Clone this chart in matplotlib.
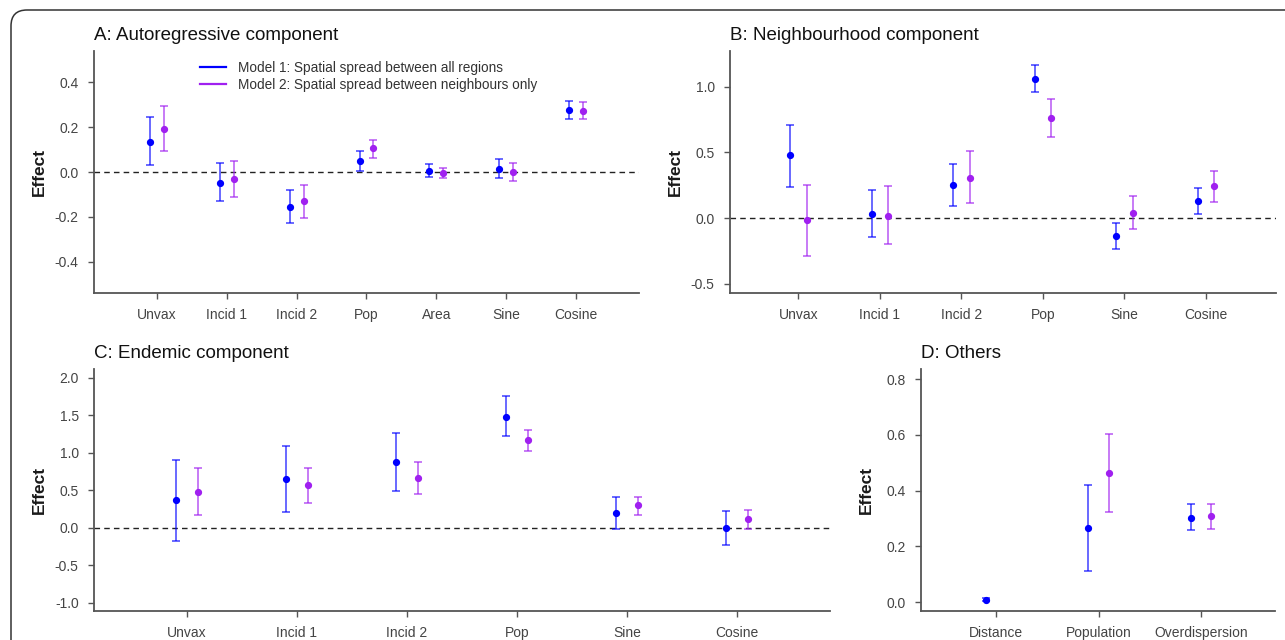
import numpy as np
import matplotlib.pyplot as plt
from matplotlib.patches import FancyBboxPatch
from matplotlib.lines import Line2D
from matplotlib.transforms import IdentityTransform

plt.rcParams['font.family'] = ['Liberation Sans', 'DejaVu Sans']
plt.rcParams['axes.unicode_minus'] = False

# A: autoregressive component
ar_labels = ["Unvax", "Incid 1", "Incid 2", "Pop", "Area", "Sine", "Cosine"]
ar_m1 = [0.134, -0.047, -0.156, 0.048, 0.006, 0.015, 0.278]
ar_m1_lo = [0.030, -0.128, -0.229, 0.005, -0.023, -0.029, 0.236]
ar_m1_hi = [0.245, 0.039, -0.081, 0.092, 0.035, 0.059, 0.317]
ar_m2 = [0.192, -0.033, -0.128, 0.105, -0.005, 0.002, 0.274]
ar_m2_lo = [0.092, -0.110, -0.205, 0.063, -0.029, -0.041, 0.236]
ar_m2_hi = [0.296, 0.048, -0.056, 0.144, 0.020, 0.042, 0.311]

# B: neighbourhood component
ne_labels = ["Unvax", "Incid 1", "Incid 2", "Pop", "Sine", "Cosine"]
ne_m1 = [0.477, 0.033, 0.250, 1.058, -0.137, 0.130]
ne_m1_lo = [0.236, -0.145, 0.090, 0.962, -0.239, 0.033]
ne_m1_hi = [0.710, 0.210, 0.414, 1.162, -0.040, 0.226]
ne_m2 = [-0.015, 0.015, 0.307, 0.759, 0.040, 0.244]
ne_m2_lo = [-0.290, -0.200, 0.114, 0.617, -0.086, 0.124]
ne_m2_hi = [0.250, 0.244, 0.510, 0.906, 0.170, 0.355]

# C: endemic component
en_labels = ["Unvax", "Incid 1", "Incid 2", "Pop", "Sine", "Cosine"]
en_m1 = [0.368, 0.655, 0.883, 1.480, 0.197, 0.000]
en_m1_lo = [-0.175, 0.210, 0.498, 1.224, -0.013, -0.229]
en_m1_hi = [0.910, 1.094, 1.269, 1.753, 0.413, 0.224]
en_m2 = [0.484, 0.570, 0.668, 1.166, 0.300, 0.112]
en_m2_lo = [0.170, 0.327, 0.457, 1.027, 0.170, -0.018]
en_m2_hi = [0.803, 0.800, 0.883, 1.309, 0.413, 0.242]

# D: others (no distance term in model 2)
ot_labels = ["Distance", "Population", "Overdispersion"]
ot_m1 = [0.008, 0.265, 0.303]
ot_m1_lo = [0.004, 0.110, 0.258]
ot_m1_hi = [0.013, 0.421, 0.350]
ot_m2 = [np.nan, 0.462, 0.308]
ot_m2_lo = [np.nan, 0.322, 0.261]
ot_m2_hi = [np.nan, 0.603, 0.353]

BLUE = "#0000FF"
PURPLE = "#A020F0"
W, H = 1285, 640

fig = plt.figure(figsize=(W / 100, H / 100), dpi=100)

# card border in the corner
card = FancyBboxPatch((11, -60), 1500, H - 10 + 60,
                      boxstyle="round,pad=0,rounding_size=16",
                      transform=IdentityTransform(), facecolor="none",
                      edgecolor="#333333", linewidth=1.1)
fig.patches.append(card)


def px_axes(left, top, right, bottom):
    return fig.add_axes([left / W, 1 - bottom / H, (right - left) / W, (bottom - top) / H])


def draw_panel(ax, labels, m1, lo1, hi1, m2, lo2, hi2, title, xlim, ylim, yticks, zero=True):
    x = np.arange(1, len(labels) + 1)
    m1, lo1, hi1 = np.array(m1), np.array(lo1), np.array(hi1)
    m2, lo2, hi2 = np.array(m2), np.array(lo2), np.array(hi2)
    if zero:
        ax.axhline(0, color="#222222", lw=1.0, ls=(0, (4, 3)), zorder=1)
    for xs, m, lo, hi, col in [(x - 0.1, m1, lo1, hi1, BLUE), (x + 0.1, m2, lo2, hi2, PURPLE)]:
        ok = ~np.isnan(m)
        ax.errorbar(xs[ok], m[ok], yerr=[m[ok] - lo[ok], hi[ok] - m[ok]], fmt="none",
                    ecolor=col, alpha=0.75, elinewidth=1.1, capsize=3, capthick=1.1, zorder=2)
        ax.plot(xs[ok], m[ok], "o", color=col, ms=4.2, zorder=3)
    ax.set_xlim(*xlim)
    ax.set_ylim(*ylim)
    ax.set_xticks(x)
    ax.set_xticklabels(labels)
    ax.set_yticks(yticks)
    ax.set_yticklabels([f"{t:.1f}" for t in yticks])
    for s in ["top", "right"]:
        ax.spines[s].set_visible(False)
    for s in ["left", "bottom"]:
        ax.spines[s].set_color("#555555")
        ax.spines[s].set_linewidth(1.3)
    ax.tick_params(colors="#555555", labelcolor="#444444", labelsize=10, length=4.5, width=1.0, pad=6.5)
    ax.set_title(title, loc="left", fontsize=13.5, pad=8, color="#111111")


axA = px_axes(94, 51, 639, 293)
draw_panel(axA, ar_labels, ar_m1, ar_m1_lo, ar_m1_hi, ar_m2, ar_m2_lo, ar_m2_hi,
           "A: Autoregressive component", (0.1, 7.9), (-0.54, 0.54), [-0.4, -0.2, 0.0, 0.2, 0.4])

axB = px_axes(730, 51, 1276, 293)
draw_panel(axB, ne_labels, ne_m1, ne_m1_lo, ne_m1_hi, ne_m2, ne_m2_lo, ne_m2_hi,
           "B: Neighbourhood component", (0.16, 6.86), (-0.57, 1.27), [-0.5, 0.0, 0.5, 1.0])

axC = px_axes(94, 369, 830, 611)
draw_panel(axC, en_labels, en_m1, en_m1_lo, en_m1_hi, en_m2, en_m2_lo, en_m2_hi,
           "C: Endemic component", (0.155, 6.845), (-1.11, 2.12), [-1.0, -0.5, 0.0, 0.5, 1.0, 1.5, 2.0])

axD = px_axes(921, 369, 1275, 611)
draw_panel(axD, ot_labels, ot_m1, ot_m1_lo, ot_m1_hi, ot_m2, ot_m2_lo, ot_m2_hi,
           "D: Others", (0.27, 3.72), (-0.032, 0.836), [0.0, 0.2, 0.4, 0.6, 0.8], zero=False)

for xc, yc in [(39, 172), (675, 172), (39, 490), (866, 490)]:
    fig.text(xc / W, 1 - yc / H, "Effect", rotation=90, ha="center", va="center",
             fontsize=12.5, fontweight="bold", color="#1a1a1a")

handles = [Line2D([], [], color=BLUE, lw=1.6), Line2D([], [], color=PURPLE, lw=1.6)]
fig.legend(handles, ["Model 1: Spatial spread between all regions",
                     "Model 2: Spatial spread between neighbours only"],
           loc="upper left", bbox_to_anchor=(200 / W, 1 - 61 / H), frameon=False,
           fontsize=9.8, borderpad=0, borderaxespad=0, handlelength=1.9,
           handletextpad=0.9, labelspacing=0.2, labelcolor="#333333")

fig.savefig("out.png", dpi=100)
